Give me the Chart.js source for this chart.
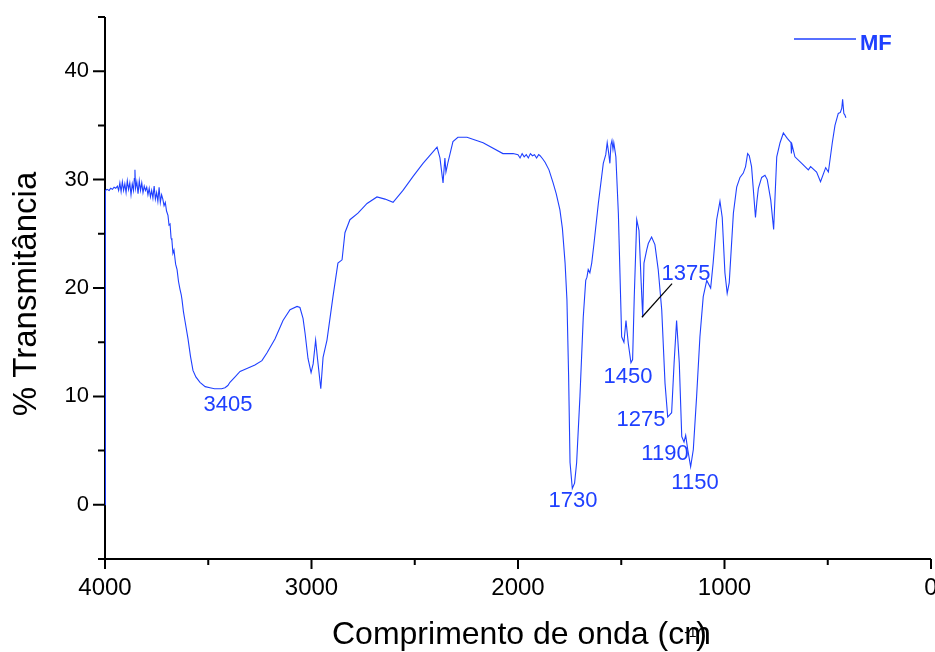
<!DOCTYPE html>
<html>
<head>
<meta charset="utf-8">
<script src="https://cdn.jsdelivr.net/npm/chart.js@4.4.1/dist/chart.umd.min.js"></script>
<style>
    html, body { margin: 0; padding: 0; background: #fff; overflow: hidden; }
    #wrap { width: 935px; height: 652px; }
</style>
</head>
<body>
<div id="wrap"><canvas id="ftir" width="935" height="652"></canvas></div>
<script>
// Spectre IR de l'échantillon MF (nombre d'onde en cm-1, transmittance en %)
var wavenumbers = [
    4000, 3998, 3990, 3980, 3972, 3964, 3956, 3948, 3940, 3934, 3928, 3922, 3916, 3910, 3904, 3898,
    3892, 3886, 3880, 3874, 3868, 3862, 3858, 3855, 3852, 3846, 3840, 3834, 3828, 3822, 3816, 3810,
    3804, 3798, 3792, 3786, 3780, 3774, 3768, 3762, 3756, 3750, 3744, 3738, 3732, 3726, 3720, 3714,
    3708, 3702, 3695, 3690, 3685, 3680, 3676, 3671, 3666, 3658, 3651, 3644, 3637, 3631, 3627, 3620,
    3613, 3598, 3586, 3574, 3560, 3540, 3515, 3492, 3470, 3453, 3435, 3419, 3405, 3395, 3370, 3346,
    3310, 3274, 3240, 3216, 3177, 3138, 3104, 3070, 3056, 3041, 3031, 3017, 3002, 2992, 2980, 2971,
    2955, 2944, 2925, 2896, 2872, 2852, 2838, 2814, 2775, 2731, 2683, 2644, 2605, 2557, 2508, 2460,
    2392, 2378, 2363, 2354, 2349, 2339, 2315, 2291, 2247, 2169, 2073, 2024, 2000, 1990, 1980, 1970,
    1960, 1950, 1940, 1930, 1920, 1910, 1900, 1893, 1880, 1869, 1850, 1830, 1815, 1797, 1785, 1772,
    1763, 1755, 1748, 1737, 1726, 1716, 1700, 1684, 1672, 1666, 1660, 1652, 1643, 1632, 1611, 1587,
    1575, 1568, 1562, 1555, 1550, 1545, 1540, 1536, 1526, 1514, 1498, 1487, 1477, 1466, 1453, 1445,
    1437, 1425, 1414, 1404, 1396, 1390, 1377, 1369, 1353, 1337, 1321, 1304, 1288, 1275, 1256, 1244,
    1232, 1219, 1207, 1196, 1188, 1178, 1164, 1151, 1135, 1119, 1103, 1086, 1067, 1055, 1038, 1022,
    1011, 998, 987, 977, 957, 941, 925, 909, 898, 888, 880, 869, 860, 850, 843, 836,
    820, 804, 793, 776, 762, 747, 731, 715, 696, 678, 676, 673, 659, 626, 594, 583,
    554, 535, 510, 497, 478, 465, 449, 439, 432, 428, 422, 418, 412
];
var transmittance = [
    0, 29.0, 29.1, 29.0, 29.2, 29.1, 29.3, 29.2, 29.4, 29.0, 29.7, 28.9, 29.8, 29.0, 29.6, 28.8,
    29.9, 29.1, 29.7, 28.6, 29.6, 29.0, 30.1, 30.9, 29.2, 29.8, 28.7, 29.9, 29.0, 29.7, 28.8, 29.4,
    29.0, 29.3, 28.6, 29.2, 28.4, 29.0, 28.3, 29.4, 28.2, 28.8, 28.0, 29.3, 27.9, 28.6, 28.2, 27.6,
    27.9, 27.1, 26.7, 25.8, 25.9, 24.6, 24.4, 23.2, 23.5, 22.2, 21.7, 20.6, 19.9, 19.4, 18.9, 17.8,
    17.0, 15.3, 13.7, 12.4, 11.8, 11.3, 10.9, 10.8, 10.7, 10.7, 10.7, 10.8, 11.0, 11.3, 11.8, 12.3,
    12.6, 12.9, 13.3, 14.0, 15.3, 17.0, 18.0, 18.3, 18.2, 17.2, 15.8, 13.5, 12.2, 13.0, 15.2, 13.5,
    10.7, 13.6, 15.2, 19.2, 22.3, 22.6, 25.1, 26.3, 26.9, 27.8, 28.4, 28.2, 27.9, 29.0, 30.3, 31.5,
    33.0, 32.0, 29.7, 32.0, 30.7, 31.6, 33.5, 33.9, 33.9, 33.4, 32.4, 32.4, 32.3, 32.0, 32.4, 32.1,
    32.3, 32.0, 32.4, 32.2, 32.3, 32.0, 32.3, 32.2, 31.9, 31.6, 30.9, 29.7, 28.7, 27.2, 25.5, 22.3,
    18.9, 12.0, 3.9, 1.5, 2.0, 3.9, 10.0, 17.3, 20.7, 21.0, 21.7, 21.4, 22.3, 24.1, 27.8, 31.5,
    32.3, 33.4, 32.6, 31.5, 33.2, 33.6, 32.8, 33.4, 32.1, 26.9, 15.5, 15.0, 17.0, 14.9, 13.1, 13.4,
    19.2, 26.3, 25.3, 20.7, 17.3, 22.3, 23.5, 24.1, 24.7, 24.0, 21.7, 18.0, 11.2, 8.1, 8.5, 13.1,
    17.0, 13.1, 6.3, 5.8, 6.4, 5.1, 3.5, 5.1, 10.0, 15.5, 19.2, 20.7, 20.0, 22.3, 26.3, 28.0,
    26.5, 21.4, 19.5, 20.5, 26.9, 29.3, 30.2, 30.6, 31.2, 32.4, 32.2, 31.2, 29.0, 26.5, 28.0, 29.2,
    30.2, 30.4, 30.0, 28.1, 25.4, 32.1, 33.4, 34.3, 33.8, 33.4, 32.4, 33.2, 32.1, 31.5, 30.9, 31.2,
    30.7, 29.8, 31.1, 30.7, 33.4, 35.0, 36.1, 36.2, 36.6, 37.4, 36.1, 36.0, 35.7
];

// Bandes annotées : texte, position (cm-1, %)
var peakLabels = ['3405', '1730', '1450', '1375', '1275', '1190', '1150'];
var peakLabelX = [3404, 1734, 1467, 1186, 1404, 1288, 1143];
var peakLabelY = [9.2, 0.4, 11.8, 21.3, 7.8, 4.7, 2.0];
// trait de rappel pour 1375
var leaderX = [1400, 1254];
var leaderY = [17.3, 20.4];

var xTicks = [0, 1000, 2000, 3000, 4000];
var yTicks = [0, 10, 20, 30, 40];

var blue = '#1f40ff';
var fontFamily = '"Liberation Sans", Arial, sans-serif';

var points = wavenumbers.map(function(w, i) {
    return { x: w, y: transmittance[i] };
});

// Axes noirs avec graduations majeures / mineures
var axesPlugin = {
    id: 'axesPlugin',
    beforeDatasetsDraw: function(chart) {
        var ctx = chart.ctx, a = chart.chartArea;
        var xs = chart.scales.x, ys = chart.scales.y;
        ctx.save();
        ctx.strokeStyle = '#000';
        ctx.lineWidth = 2;
        ctx.beginPath();
        ctx.moveTo(a.left, a.top);
        ctx.lineTo(a.left, a.bottom);
        ctx.lineTo(a.right, a.bottom);
        xs.ticks.forEach(function(t) {
            var px = xs.getPixelForValue(t.value);
            var len = xTicks.indexOf(t.value) >= 0 ? 10 : 6;
            ctx.moveTo(px, a.bottom);
            ctx.lineTo(px, a.bottom + len);
        });
        ys.ticks.forEach(function(t) {
            var py = ys.getPixelForValue(t.value);
            var len = yTicks.indexOf(t.value) >= 0 ? 12 : 7;
            ctx.moveTo(a.left, py);
            ctx.lineTo(a.left - len, py);
        });
        ctx.stroke();
        ctx.restore();
    }
};

// Étiquettes des bandes, légende et titres des axes
var textPlugin = {
    id: 'textPlugin',
    afterDatasetsDraw: function(chart) {
        var ctx = chart.ctx, a = chart.chartArea;
        var xs = chart.scales.x, ys = chart.scales.y;
        ctx.save();

        ctx.fillStyle = blue;
        ctx.font = '22px ' + fontFamily;
        ctx.textAlign = 'center';
        ctx.textBaseline = 'middle';
        peakLabels.forEach(function(txt, i) {
            ctx.fillText(txt, xs.getPixelForValue(peakLabelX[i]), ys.getPixelForValue(peakLabelY[i]));
        });

        ctx.strokeStyle = '#000';
        ctx.lineWidth = 1.2;
        ctx.beginPath();
        ctx.moveTo(xs.getPixelForValue(leaderX[0]), ys.getPixelForValue(leaderY[0]));
        ctx.lineTo(xs.getPixelForValue(leaderX[1]), ys.getPixelForValue(leaderY[1]));
        ctx.stroke();

        // légende
        var label = chart.data.datasets[0].label;
        ctx.strokeStyle = blue;
        ctx.lineWidth = 1.5;
        ctx.beginPath();
        ctx.moveTo(794, 39);
        ctx.lineTo(856, 39);
        ctx.stroke();
        ctx.font = 'bold 22px ' + fontFamily;
        ctx.textAlign = 'left';
        ctx.textBaseline = 'alphabetic';
        ctx.fillText(label, 860, 50);

        // titre axe X (exposant -1 et parenthèse superposés sur le "m")
        ctx.fillStyle = '#000';
        ctx.font = '32px ' + fontFamily;
        ctx.textAlign = 'left';
        var x0 = 332, base = 644;
        ctx.fillText('Comprimento de onda (cm', x0, base);
        var wC = ctx.measureText('Comprimento de onda (c').width;
        ctx.fillText(')', x0 + wC + 12, base);
        ctx.font = '14px ' + fontFamily;
        ctx.fillText('-1', x0 + wC, base - 7);

        // titre axe Y
        ctx.font = '33px ' + fontFamily;
        ctx.textAlign = 'center';
        ctx.textBaseline = 'middle';
        ctx.translate(27, 294);
        ctx.rotate(-Math.PI / 2);
        ctx.fillText('% Transmitância', 0, 0);
        ctx.restore();
    }
};

var ctx = document.getElementById('ftir').getContext('2d');
var ftirChart = new Chart(ctx, {
    type: 'line',
    data: {
        datasets: [{
            label: 'MF',
            data: points,
            borderColor: blue,
            borderWidth: 1.1,
            pointRadius: 0,
            tension: 0,
            fill: false
        }]
    },
    options: {
        responsive: false,
        devicePixelRatio: 1,
        animation: false,
        layout: { padding: { top: 17, right: 0, left: 0, bottom: 0 } },
        plugins: {
            legend: { display: false },
            tooltip: { enabled: false }
        },
        scales: {
            x: {
                type: 'linear',
                reverse: true,
                min: 0,
                max: 4000,
                border: { display: false },
                grid: { drawOnChartArea: false, drawTicks: true, tickLength: 10, tickColor: 'rgba(0,0,0,0)' },
                ticks: {
                    stepSize: 500,
                    autoSkip: false,
                    maxRotation: 0,
                    padding: 5,
                    color: '#000',
                    font: { family: fontFamily, size: 24 },
                    callback: function(v) { return xTicks.indexOf(v) >= 0 ? String(v) : ''; }
                },
                afterFit: function(s) {
                    s.height = 93;
                    s.paddingLeft = 0;
                    s.paddingRight = 4;
                }
            },
            y: {
                min: -5,
                max: 45,
                border: { display: false },
                grid: { drawOnChartArea: false, drawTicks: true, tickLength: 12, tickColor: 'rgba(0,0,0,0)' },
                ticks: {
                    stepSize: 5,
                    autoSkip: false,
                    padding: 4,
                    color: '#000',
                    font: { family: fontFamily, size: 22 },
                    callback: function(v) { return yTicks.indexOf(v) >= 0 ? String(v) : ''; }
                },
                afterFit: function(s) {
                    s.width = 105;
                    s.paddingTop = 0;
                    s.paddingBottom = 0;
                }
            }
        }
    },
    plugins: [axesPlugin, textPlugin]
});
</script>
</body>
</html>
